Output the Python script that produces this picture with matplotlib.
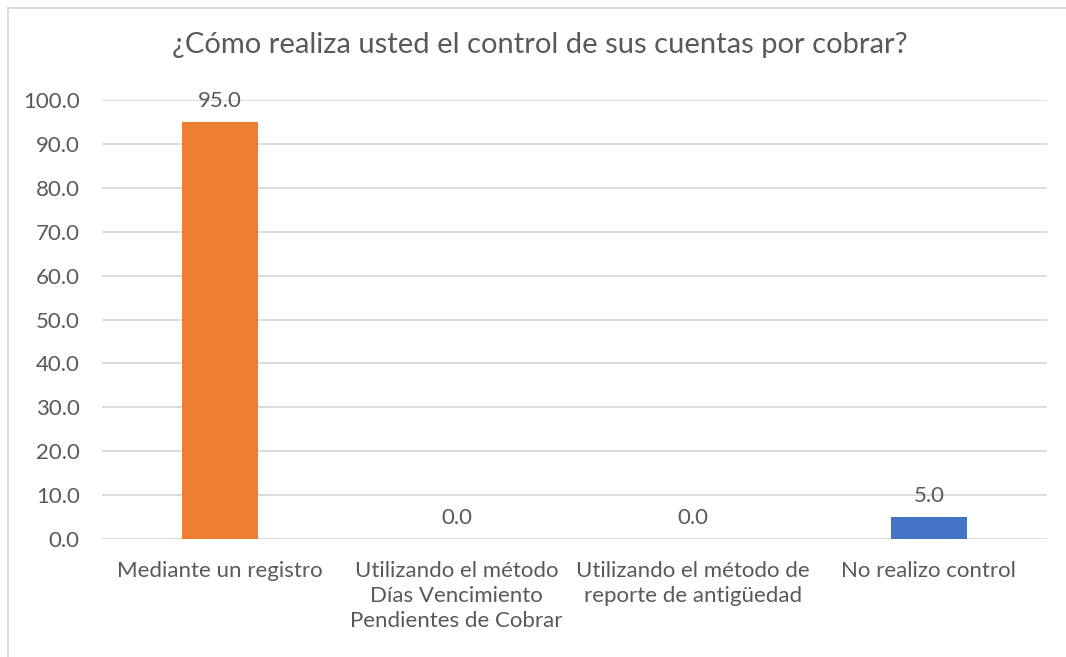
import matplotlib
matplotlib.use("Agg")
import matplotlib.pyplot as plt
from matplotlib.lines import Line2D

# ===================== 数据 =====================
categories = [
    "Mediante un registro",
    "Utilizando el método\nDías Vencimiento\nPendientes de Cobrar",
    "Utilizando el método de\nreporte de antigüedad",
    "No realizo control",
]
values = [95.0, 0.0, 0.0, 5.0]
bar_colors = ["#ED7D31", "#4472C4", "#4472C4", "#4472C4"]
yticks = [0, 10, 20, 30, 40, 50, 60, 70, 80, 90, 100]
title = "¿Cómo realiza usted el control de sus cuentas por cobrar?"

TEXT = "#595959"
GRID = "#D9D9D9"

plt.rcParams["font.family"] = ["Lato", "DejaVu Sans"]

W, H = 1066, 657
fig = plt.figure(figsize=(W / 100, H / 100), dpi=100)
ax = fig.add_axes([102 / W, 1 - 539 / H, (1047 - 102) / W, (539 - 100) / H])

x = list(range(len(categories)))
ax.bar(x, values, width=0.32, color=bar_colors, zorder=3)
for xi, v in zip(x, values):
    ax.annotate(f"{v:.1f}", (xi, v), xytext=(0, 8), textcoords="offset points",
                ha="center", va="bottom", fontsize=16, color=TEXT)

ax.set_xlim(-0.5, len(categories) - 0.5)
ax.set_ylim(0, 100)
ax.set_yticks(yticks)
ax.set_yticklabels([f"{t:.1f}" for t in yticks], fontsize=16, color=TEXT)
ax.set_xticks(x)
ax.set_xticklabels(categories, fontsize=16, color=TEXT, linespacing=1.3)
ax.tick_params(axis="both", length=0)
ax.tick_params(axis="x", pad=16)
ax.tick_params(axis="y", pad=16)
ax.grid(axis="y", color=GRID, linewidth=1.3, zorder=0)
for s in ax.spines.values():
    s.set_visible(False)

fig.text(0.506, 1 - 45 / H, title, ha="center", va="center", fontsize=21, color=TEXT)

# 图表边框（左、上）
fig.add_artist(Line2D([8 / W, 8 / W], [0, 1 - 8 / H], color=GRID, linewidth=1.3))
fig.add_artist(Line2D([8 / W, 1], [1 - 8 / H, 1 - 8 / H], color=GRID, linewidth=1.3))

fig.savefig("out.png", dpi=100)
